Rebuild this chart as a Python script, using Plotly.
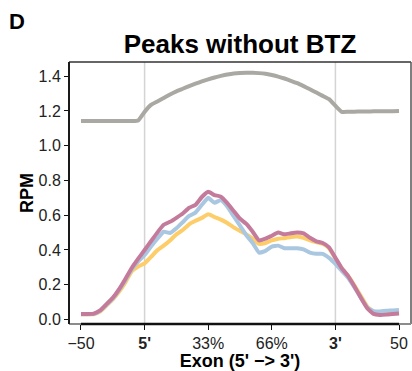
import plotly.graph_objects as go

# Meta-profile positions: 50 bins upstream, scaled exon body, 50 bins downstream
positions = list(range(0, 101, 2))

tick_vals = [0, 20, 40, 60, 80, 100]
tick_text = ["\u221250", "<b>5'</b>", "33%", "66%", "<b>3'</b>", "50"]

input_rpm = [
    1.142, 1.142, 1.142, 1.142, 1.142, 1.142, 1.142, 1.142, 1.142, 1.145,
    1.195, 1.235, 1.255, 1.275, 1.295, 1.313, 1.328, 1.343, 1.357, 1.37,
    1.382, 1.393, 1.402, 1.41, 1.416, 1.419, 1.42, 1.42, 1.418, 1.414,
    1.407, 1.398, 1.387, 1.374, 1.36, 1.343, 1.325, 1.306, 1.287, 1.268,
    1.23, 1.195, 1.196, 1.196, 1.197, 1.197, 1.198, 1.198, 1.199, 1.199,
    1.2,
]

yellow_rpm = [
    0.03, 0.03, 0.03, 0.045, 0.08, 0.115, 0.16, 0.215, 0.278, 0.305,
    0.323, 0.36, 0.398, 0.425, 0.455, 0.49, 0.515, 0.548, 0.568, 0.585,
    0.605, 0.59, 0.575, 0.555, 0.53, 0.51, 0.49, 0.465, 0.435, 0.44,
    0.455, 0.465, 0.468, 0.475, 0.477, 0.47, 0.455, 0.445, 0.436, 0.41,
    0.35, 0.292, 0.25, 0.195, 0.135, 0.075, 0.045, 0.04, 0.038, 0.038,
    0.04,
]

blue_rpm = [
    0.03, 0.03, 0.032, 0.05, 0.085, 0.12, 0.17, 0.228, 0.29, 0.335,
    0.371, 0.42, 0.465, 0.505, 0.498, 0.525, 0.56, 0.596, 0.615, 0.66,
    0.70, 0.672, 0.688, 0.65, 0.595, 0.54, 0.485, 0.44, 0.385, 0.395,
    0.42, 0.425, 0.41, 0.41, 0.41, 0.403, 0.385, 0.378, 0.378, 0.355,
    0.32, 0.28, 0.24, 0.185, 0.125, 0.07, 0.048, 0.046, 0.05, 0.052,
    0.055,
]

pink_rpm = [
    0.032, 0.032, 0.034, 0.052, 0.088, 0.125, 0.175, 0.235, 0.298, 0.35,
    0.40, 0.45, 0.50, 0.545, 0.562, 0.585, 0.61, 0.643, 0.66, 0.705,
    0.735, 0.716, 0.707, 0.67, 0.625, 0.58, 0.55, 0.505, 0.455, 0.465,
    0.482, 0.50, 0.49, 0.496, 0.50, 0.495, 0.47, 0.45, 0.44, 0.415,
    0.355, 0.295, 0.25, 0.19, 0.125, 0.065, 0.032, 0.026, 0.028, 0.032,
    0.035,
]

FONT = "Liberation Sans, Arial, sans-serif"

fig = go.Figure()
for values, color in [
    (input_rpm, "#aaa8a2"),
    (yellow_rpm, "#fdcd6a"),
    (blue_rpm, "#a9c7e0"),
    (pink_rpm, "#c47b9b"),
]:
    fig.add_trace(go.Scatter(
        x=positions, y=values, mode="lines",
        line=dict(color=color, width=4, shape="spline", smoothing=0.4),
        showlegend=False, hoverinfo="skip",
    ))

shapes = [
    # exon boundary guides
    dict(type="line", xref="x", yref="paper", x0=20, x1=20, y0=0, y1=1,
         line=dict(color="#d4d4d4", width=1.5), layer="below"),
    dict(type="line", xref="x", yref="paper", x0=80, x1=80, y0=0, y1=1,
         line=dict(color="#d4d4d4", width=1.5), layer="below"),
    # panel frame
    dict(type="line", xref="paper", yref="paper", x0=0, x1=1, y0=1, y1=1,
         line=dict(color="#333333", width=1.5)),
    dict(type="line", xref="paper", yref="paper", x0=1, x1=1, y0=0, y1=1,
         line=dict(color="#555555", width=1.5)),
    dict(type="line", xref="paper", yref="paper", x0=0, x1=1, y0=0, y1=0,
         line=dict(color="#8c8c8c", width=2)),
    dict(type="line", xref="paper", yref="paper", x0=0, x1=0, y0=0, y1=1,
         line=dict(color="#1a1a1a", width=2)),
    # bottom axis spanning the data range
    dict(type="line", xref="x", yref="paper", x0=0, x1=100, y0=0, y1=0,
         line=dict(color="#111111", width=2.5)),
]

fig.update_layout(
    width=412, height=371,
    margin=dict(l=69, r=1, t=62, b=47),
    paper_bgcolor="white", plot_bgcolor="white",
    font=dict(family=FONT, color="#111111"),
    title=dict(text="<b>Peaks without BTZ</b>", x=240 / 412, xref="container",
               xanchor="center", y=1 - 44 / 371, yref="container",
               yanchor="middle", font=dict(size=26, color="#000000")),
    shapes=shapes,
    annotations=[dict(text="<b>D</b>", xref="paper", yref="paper",
                      x=(7 - 69) / 342, y=(324 - 21) / 262,
                      xanchor="left", yanchor="middle", showarrow=False,
                      font=dict(size=22, color="#000000"))],
    xaxis=dict(
        range=[-3.77, 103.77], tickvals=tick_vals, ticktext=tick_text,
        showgrid=False, zeroline=False, showline=False,
        ticks="outside", ticklen=5, tickwidth=1.2, tickcolor="#111111",
        tickfont=dict(size=16, color="#222222"),
        title=dict(text="<b>Exon (5' \u2212> 3')</b>", font=dict(size=18, color="#000000"),
                   standoff=4),
    ),
    yaxis=dict(
        range=[-0.026, 1.482], tickvals=[0, 0.2, 0.4, 0.6, 0.8, 1.0, 1.2, 1.4],
        tickformat=".1f",
        showgrid=False, zeroline=False, showline=False,
        ticks="outside", ticklen=4, tickwidth=1.2, tickcolor="#111111",
        tickfont=dict(size=16, color="#222222"),
        title=dict(text="<b>RPM</b>", font=dict(size=18, color="#000000"),
                   standoff=0),
    ),
)

fig.write_html("out.html")
